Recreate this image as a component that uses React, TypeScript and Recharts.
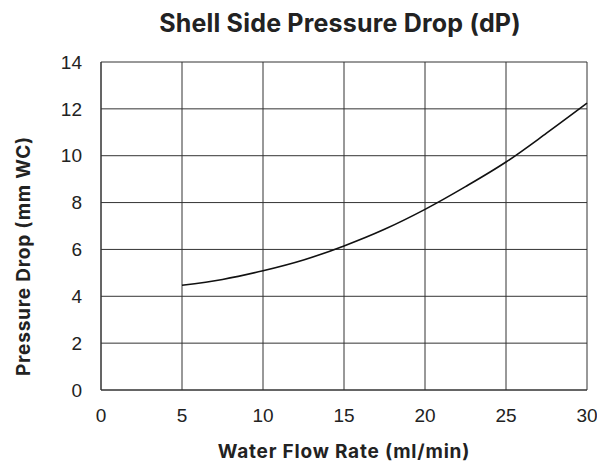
import React from "react";
import { LineChart, Line, XAxis, YAxis, CartesianGrid, Label } from "recharts";

const flowRates = [5, 7.5, 10, 12.5, 15, 17.5, 20, 22.5, 25, 27.5, 30];
const pressureDrops = [4.47, 4.72, 5.09, 5.55, 6.15, 6.86, 7.71, 8.68, 9.73, 10.96, 12.24];
const xTicks = [0, 5, 10, 15, 20, 25, 30];
const yTicks = [0, 2, 4, 6, 8, 10, 12, 14];

const data = flowRates.map((x, i) => ({ x, dp: pressureDrops[i] }));

const boldFont = "Inter, 'Noto Sans', sans-serif";
const tickStyle = { fontFamily: "'Liberation Sans', Arial, sans-serif", fontSize: 19, fill: "#222" };
const labelStyle = { fontFamily: boldFont, fontWeight: 700, fontSize: 19, letterSpacing: 0.8, fill: "#222" };

export default function App() {
  return (
    <div style={{ position: "absolute", left: 0, top: 0, width: 597, height: 464, background: "#fff" }}>
      <div
        style={{
          position: "absolute",
          left: 0,
          width: 680,
          top: 7,
          textAlign: "center",
          fontFamily: boldFont,
          fontWeight: 700,
          fontSize: 25,
          letterSpacing: 0.2,
          lineHeight: "32px",
          color: "#222",
        }}
      >
        Shell Side Pressure Drop (dP)
      </div>
      <LineChart width={597} height={464} data={data} margin={{ top: 62, right: 10, bottom: 0, left: 0 }}>
        <CartesianGrid stroke="#333" strokeWidth={1} />
        <XAxis
          type="number"
          dataKey="x"
          domain={[0, 30]}
          ticks={xTicks}
          height={74}
          axisLine={{ stroke: "#333" }}
          tickLine={false}
          tickSize={0}
          tickMargin={19}
          tick={tickStyle}
          interval={0}
        >
          <Label value="Water Flow Rate (ml/min)" position="insideBottom" offset={6} style={labelStyle} />
        </XAxis>
        <YAxis
          type="number"
          domain={[0, 14]}
          ticks={yTicks}
          width={101}
          axisLine={{ stroke: "#333" }}
          tickLine={false}
          tickSize={0}
          tickMargin={19}
          tick={tickStyle}
          interval={0}
        >
          <Label
            content={() => (
              <text transform="translate(30, 256) rotate(-90)" textAnchor="middle" style={labelStyle}>
                Pressure Drop (mm WC)
              </text>
            )}
          />
        </YAxis>
        <Line
          type="monotone"
          dataKey="dp"
          stroke="#111"
          strokeWidth={1.6}
          dot={false}
          isAnimationActive={false}
        />
      </LineChart>
    </div>
  );
}
